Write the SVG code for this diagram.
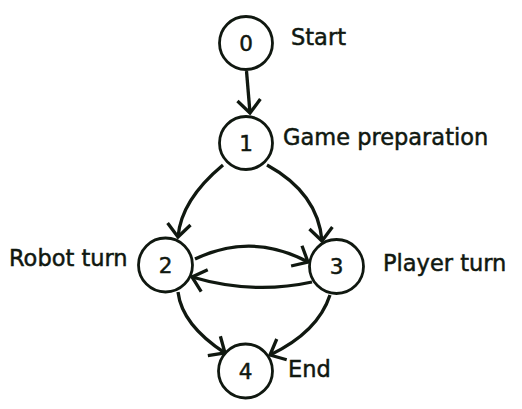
<svg xmlns="http://www.w3.org/2000/svg" width="522" height="409" viewBox="0 0 522 409">
<style>
.node circle{fill:#fff;stroke:#101810;stroke-width:2.8}
.num{font-family:"DejaVu Sans",sans-serif;font-size:21.5px;fill:#101810;stroke:#101810;stroke-width:0.5;text-anchor:middle}
.lbl{font-family:"DejaVu Sans",sans-serif;font-size:22.5px;fill:#101810;stroke:#101810;stroke-width:0.5}
.edge{fill:none;stroke:#101810;stroke-width:3.3;marker-end:url(#arr)}
</style>
<defs>
<marker id="arr" markerUnits="userSpaceOnUse" markerWidth="20" markerHeight="28" refX="16" refY="13" orient="auto" viewBox="0 0 20 28" overflow="visible">
<path d="M3,1.5 L16,13 L3,24.5" fill="none" stroke="#101810" stroke-width="3.3" stroke-linecap="butt"/>
</marker>
</defs>
<rect width="522" height="409" fill="#fff"/>
<g id="connectors">
<path class="edge" d="M246.5,71 L250,113"/>
<path class="edge" d="M223,165 Q181,200 178,237"/>
<path class="edge" d="M267,165 Q318,193 322,241"/>
<path class="edge" d="M195,259 Q252,232 308,262"/>
<path class="edge" d="M312,282 Q253,295 192,277"/>
<path class="edge" d="M178,292 Q182,325 225,353"/>
<path class="edge" d="M330,295 Q318,332 270,355"/>
</g>
<g id="node0" class="node"><circle cx="246" cy="43" r="26.5"/><text class="num" x="246" y="50.5">0</text><text class="lbl" x="291" y="45">Start</text></g>
<g id="node1" class="node"><circle cx="246" cy="143" r="26.5"/><text class="num" x="246" y="150.5">1</text><text class="lbl" x="283" y="145">Game preparation</text></g>
<g id="node2" class="node"><circle cx="165.5" cy="265" r="27"/><text class="num" x="165.5" y="272.5">2</text><text class="lbl" x="9" y="266">Robot turn</text></g>
<g id="node3" class="node"><circle cx="336.5" cy="266.5" r="27"/><text class="num" x="336.5" y="274">3</text><text class="lbl" x="383" y="271">Player turn</text></g>
<g id="node4" class="node"><circle cx="245.5" cy="371" r="27"/><text class="num" x="245.5" y="378.5">4</text><text class="lbl" x="288" y="377">End</text></g>
</svg>
